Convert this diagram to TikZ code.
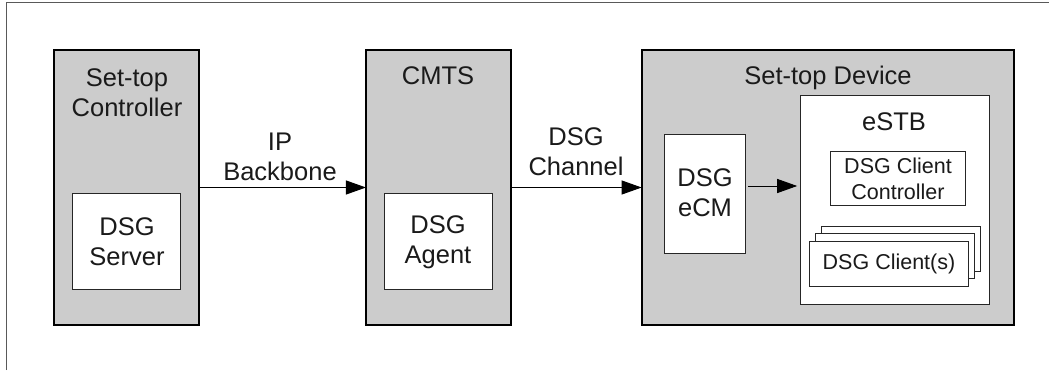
\documentclass[tikz,border=0pt]{standalone}
\usepackage{fontspec}
\setmainfont{Liberation Sans}
\usetikzlibrary{arrows.meta,calc}
\definecolor{boxgray}{HTML}{CCCCCC}
\definecolor{txt}{HTML}{1A1A1A}
\begin{document}
\begin{tikzpicture}[x=1pt,y=-1pt,
  graybox/.style={draw=black, line width=2pt, fill=boxgray, inner sep=0pt, outer sep=0pt},
  whitebox/.style={draw=black!85, line width=1pt, fill=white, inner sep=0pt, outer sep=0pt},
  big/.style={font=\fontsize{25.5}{30}\selectfont, align=center, inner sep=0pt, text=txt},
  small/.style={font=\fontsize{21.5}{25.7}\selectfont, align=center, inner sep=0pt, text=txt},
  arr/.style={line width=1pt, -{Triangle[length=20pt,width=14pt]}}]
\useasboundingbox (0,0) rectangle (1049,370);
\fill[white] (0,0) rectangle (1049,370);
% outer frame
\coordinate (fbl) at (6.5,370);
\coordinate (ftl) at (6.5,2);
\coordinate (ftr) at (1049,2);
\draw[black!65, line width=1pt] (fbl) -- (ftl) -- (ftr);

% Set-top controller
\node[graybox, minimum width=145pt, minimum height=275pt] (stc) at (126.5,187.5) {};
\node[big] (stct) at (127,93) {Set-top\\Controller};
\node[whitebox, minimum width=108pt, minimum height=96pt] (server) at (126.7,241) {};
\node[big] (servert) at (127,242) {DSG\\Server};

% CMTS
\node[graybox, minimum width=144.7pt, minimum height=275pt] (cmts) at (438.3,187.5) {};
\node[big] (cmtst) at (438,76) {CMTS};
\node[whitebox, minimum width=108pt, minimum height=96pt] (agent) at (438.3,241) {};
\node[big] (agentt) at (438,242) {DSG\\Agent};

% Set-top device
\node[graybox, minimum width=372.3pt, minimum height=275pt] (std) at (827.8,187.5) {};
\node[big] (stdt) at (828,78) {Set-top Device};
\node[whitebox, minimum width=80.7pt, minimum height=119pt] (ecm) at (705.3,193.5) {};
\node[big] (ecmt) at (705,193) {DSG\\eCM};
\node[whitebox, minimum width=189pt, minimum height=209pt] (estb) at (895.2,199.5) {};
\node[big] (estbt) at (894,122) {eSTB};
\node[whitebox, minimum width=135pt, minimum height=53.6pt] (dcc) at (898.2,178.5) {};
\node[small] (dcct) at (898,179) {DSG Client\\Controller};
\node[whitebox, minimum width=158.6pt, minimum height=45pt] (cl3) at (901,249.2) {};
\node[whitebox, minimum width=158.6pt, minimum height=45pt] (cl2) at (894.8,256.2) {};
\node[whitebox, minimum width=158.6pt, minimum height=45pt] (cl1) at (888.8,263.7) {};
\node[small] (clt) at (889,264) {DSG Client(s)};

% connectors
\draw[arr] (stc.east) -- (cmts.west);
\node[big] (ipl) at (280,157) {IP\\Backbone};
\draw[arr] (cmts.east) -- (std.west);
\node[big] (chl) at (576,152) {DSG\\Channel};
\draw[arr] ([xshift=2.5pt,yshift=7.5pt]ecm.east) -- ([xshift=-3.5pt,yshift=7.5pt]ecm.east -| estb.west);
\end{tikzpicture}
\end{document}
